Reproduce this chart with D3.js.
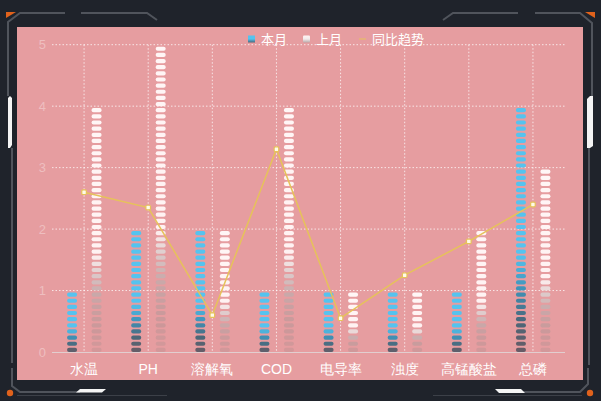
<!DOCTYPE html>
<html><head><meta charset="utf-8">
<script src="https://cdn.jsdelivr.net/npm/d3@7"></script>
<style>
html,body{margin:0;padding:0;background:#1f232b;}
svg{display:block;font-family:"Microsoft YaHei","Noto Sans CJK SC","Noto Sans",sans-serif;}
</style>
</head><body>
<svg id="c" width="601" height="401"></svg>
<script>
// ---- data ----
const categories = ["水温","PH","溶解氧","COD","电导率","浊度","高锰酸盐","总磷"];
const thisMonth = [1,2,2,1,1,1,1,4];
const lastMonth = [4,5,2,4,1,1,2,3];
const trend = [2.6,2.35,0.6,3.3,0.55,1.25,1.8,2.4];
const yTicks = [0,1,2,3,4,5];
const legendNames = ["本月","上月","同比趋势"];

// ---- setup ----
const svg = d3.select("#c");
const W = 601, H = 401;
svg.append("rect").attr("width",W).attr("height",H).attr("fill","#1f232b");

// frame decorations
const frame = svg.append("g");
const grey = "#50545c";
frame.append("path").attr("d","M8,96 L8,22 L20,13 L65,13").attr("fill","none").attr("stroke",grey).attr("stroke-width",2);
frame.append("path").attr("d","M81,13 L147,13 L157,20").attr("fill","none").attr("stroke",grey).attr("stroke-width",2);
frame.append("path").attr("d","M443,20 L453,13 L518,13").attr("fill","none").attr("stroke",grey).attr("stroke-width",2);
frame.append("path").attr("d","M535,13 L580,13 L592,23 L592,96").attr("fill","none").attr("stroke",grey).attr("stroke-width",2);
frame.append("path").attr("d","M12,148 L12,363").attr("fill","none").attr("stroke",grey).attr("stroke-width",2);
frame.append("path").attr("d","M12,368 L12,386 L20,392 L80,392").attr("fill","none").attr("stroke",grey).attr("stroke-width",2);
frame.append("path").attr("d","M589,148 L589,365").attr("fill","none").attr("stroke",grey).attr("stroke-width",2);
frame.append("path").attr("d","M588,368 L588,384 L580,392 L522,392").attr("fill","none").attr("stroke",grey).attr("stroke-width",2);
frame.append("line").attr("x1",17).attr("x2",167).attr("y1",395.5).attr("y2",395.5).attr("stroke","#3c4048").attr("stroke-width",1);
frame.append("line").attr("x1",433).attr("x2",582).attr("y1",395.5).attr("y2",395.5).attr("stroke","#3c4048").attr("stroke-width",1);
frame.append("path").attr("d","M6,12 L16,12 L6,18 Z").attr("fill","#e0621c");
frame.append("path").attr("d","M585,12 L595,12 L595,18 Z").attr("fill","#e0621c");
frame.append("circle").attr("cx",10).attr("cy",393).attr("r",3.2).attr("fill","#e0621c");
frame.append("circle").attr("cx",590).attr("cy",393).attr("r",3.2).attr("fill","#e0621c");
frame.append("path").attr("d","M8,98 L10,96 L12,98 L12,145 L10,148 L8,148 Z").attr("fill","#f4f4f4");
frame.append("path").attr("d","M587,99 L590,96 L593,96 L593,146 L590,148 L587,148 Z").attr("fill","#f4f4f4");
frame.append("path").attr("d","M80,389 L106,389 L102,392.5 L76,392.5 Z").attr("fill","#f4f4f4");
frame.append("path").attr("d","M495,389 L521,389 L525,393 L499,393 Z").attr("fill","#f4f4f4");

// pink panel
svg.append("rect").attr("x",17).attr("y",27).attr("width",566).attr("height",353).attr("fill","#e69da0");

// scales
const x = d3.scaleBand().domain(categories).range([52,565]);
const y = d3.scaleLinear().domain([0,5]).range([352,44.7]);
const cx = c => x(c) + x.bandwidth()/2;

// grid
const g = svg.append("g");
g.selectAll(".hg").data(yTicks.filter(t=>t>0)).join("line")
  .attr("x1",52).attr("x2",565).attr("y1",d=>y(d)).attr("y2",d=>y(d))
  .attr("stroke","rgba(255,255,255,0.75)").attr("stroke-width",1).attr("stroke-dasharray","1.5,2");
g.selectAll(".vg").data(categories).join("line")
  .attr("x1",d=>cx(d)).attr("x2",d=>cx(d)).attr("y1",y(5)).attr("y2",y(0))
  .attr("stroke","rgba(255,255,255,0.75)").attr("stroke-width",1).attr("stroke-dasharray","1.5,2");

// y axis
const ya = svg.append("g").attr("transform","translate(52,0)")
  .call(d3.axisLeft(y).tickValues(yTicks).tickSize(0).tickPadding(6).tickFormat(d3.format("d")));
ya.select(".domain").remove();
ya.selectAll("text").attr("fill","rgba(255,255,255,0.35)").style("font-size","13px");

// x axis
const xa = svg.append("g").attr("transform",`translate(0,${y(0)})`)
  .call(d3.axisBottom(x).tickSize(0).tickPadding(12));
xa.select(".domain").remove();
xa.selectAll("text").attr("fill","#ffffff").style("font-size","14px");
svg.append("line").attr("x1",52).attr("x2",565).attr("y1",y(0)+0.5).attr("y2",y(0)+0.5)
  .attr("stroke","rgba(225,215,215,0.85)").attr("stroke-width",1.2);

// bar colour ramps (by position from top of each bar)
const blueRamp = d3.scaleLinear().domain([0,0.6,0.74,0.87,1])
  .range(["#55c3ef","#55c3ef","#3f92b8","#4b6779","#6a5a64"]).interpolate(d3.interpolateRgb);
const whiteRamp = d3.scaleLinear().domain([0,0.6,0.68,0.76,0.9,1])
  .range(["rgba(255,246,246,1)","rgba(255,242,242,1)","rgba(220,205,205,0.95)","rgba(185,176,176,0.65)","rgba(165,145,145,0.4)","rgba(160,135,135,0.25)"])
  .interpolate(d3.interpolateRgb);

const step = y(0) - y(0.1);
const segH = 4.2, segW = 10;
function drawBars(values, offset, ramp){
  const data = [];
  values.forEach((v,ci)=>{
    const n = Math.round(v*10);
    for(let i=0;i<n;i++){
      data.push({c:categories[ci], i, n});
    }
  });
  svg.append("g").selectAll("rect").data(data).join("rect")
    .attr("x",d=>cx(d.c)+offset-segW/2)
    .attr("y",d=>y(0)-(d.i+1)*step+(step-segH))
    .attr("width",segW).attr("height",segH).attr("rx",2)
    .attr("fill",d=>ramp(1-(d.i+0.5)/d.n));
}
drawBars(thisMonth,-12,blueRamp);
drawBars(lastMonth,12.5,whiteRamp);

// trend line
const lineColor = "#e6c25a";
svg.append("path").datum(trend)
  .attr("d",d3.line().x((d,i)=>cx(categories[i])).y(d=>y(d)))
  .attr("fill","none").attr("stroke",lineColor).attr("stroke-width",1.5);
svg.append("g").selectAll("rect").data(trend).join("rect")
  .attr("x",(d,i)=>cx(categories[i])-2.3).attr("y",d=>y(d)-2.3)
  .attr("width",4.6).attr("height",4.6).attr("rx",1)
  .attr("fill","#fffbe8").attr("stroke",lineColor).attr("stroke-width",1.2);

// legend
const defs = svg.append("defs");
const lg1 = defs.append("linearGradient").attr("id","lg1").attr("x1",0).attr("y1",0).attr("x2",0).attr("y2",1);
lg1.append("stop").attr("offset","0").attr("stop-color","#55c3ef");
lg1.append("stop").attr("offset","0.5").attr("stop-color","#55c3ef");
lg1.append("stop").attr("offset","1").attr("stop-color","#4b6779");
const lg2 = defs.append("linearGradient").attr("id","lg2").attr("x1",0).attr("y1",0).attr("x2",0).attr("y2",1);
lg2.append("stop").attr("offset","0").attr("stop-color","#fff4f4");
lg2.append("stop").attr("offset","0.5").attr("stop-color","#f2eaea");
lg2.append("stop").attr("offset","1").attr("stop-color","#b9a9aa");

const leg = svg.append("g");
const legX = [248, 303, 359];
leg.append("rect").attr("x",legX[0]).attr("y",35.5).attr("width",7).attr("height",7).attr("fill","url(#lg1)");
leg.append("rect").attr("x",legX[1]).attr("y",35.5).attr("width",7).attr("height",7).attr("rx",1).attr("fill","url(#lg2)");
leg.append("line").attr("x1",legX[2]).attr("x2",legX[2]+7).attr("y1",39).attr("y2",39).attr("stroke",lineColor).attr("stroke-width",1);
leg.selectAll("text").data(legendNames).join("text")
  .attr("x",(d,i)=>legX[i]+13).attr("y",39).attr("dy","0.35em")
  .attr("fill","#ffffff").style("font-size","13px").text(d=>d);
</script>
</body></html>
